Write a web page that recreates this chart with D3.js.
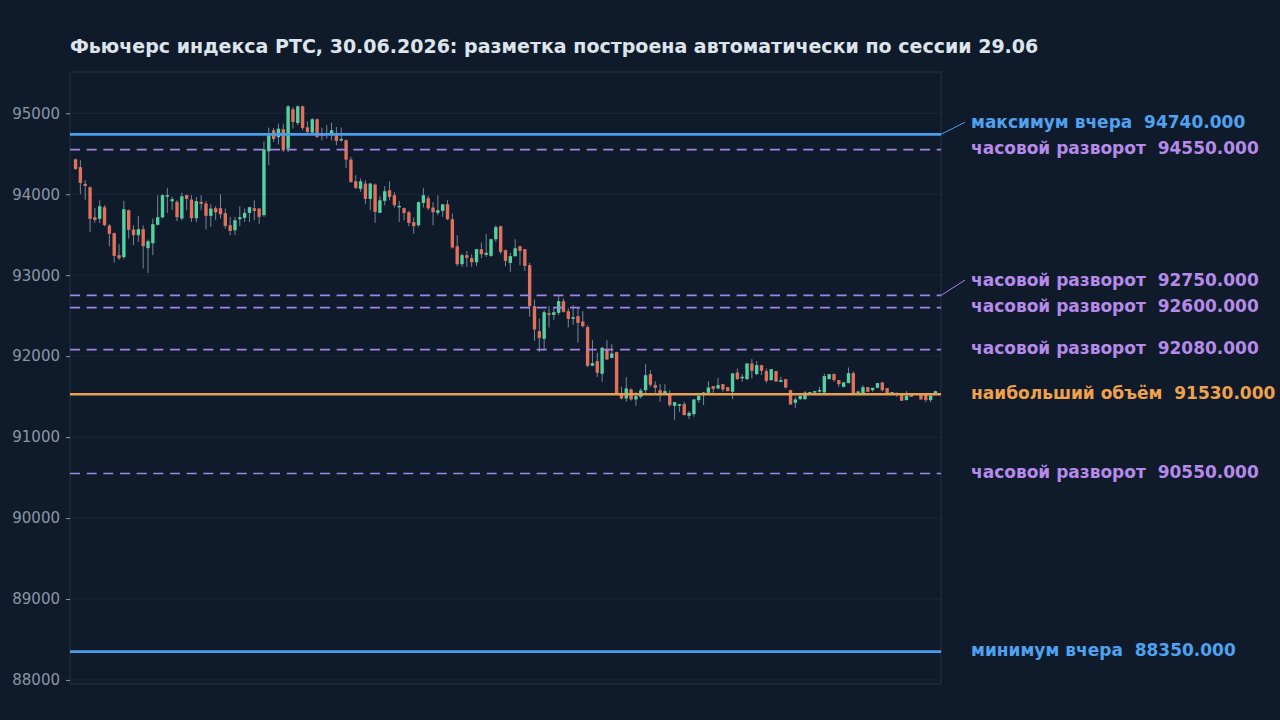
<!DOCTYPE html>
<html><head><meta charset="utf-8">
<script src="https://cdn.jsdelivr.net/npm/d3@7"></script>
<style>
html,body{margin:0;padding:0;background:#0f1b2a;}
svg{display:block;}
</style></head>
<body>
<svg id="chart" width="1280" height="720"></svg>
<script>
const titleText = "Фьючерс индекса РТС, 30.06.2026: разметка построена автоматически по сессии 29.06";

const opens = [94432,94334,94128,94087,93716,93696,93840,93613,93519,93247,93223,93803,93564,93494,93568,93334,93395,93622,93716,93984,
93914,93906,93700,93988,93934,93704,93906,93885,93733,93827,93827,93765,93617,93555,93691,93708,93770,93827,93823,93741,
94531,94790,94704,94802,94564,95049,94880,95086,94827,94761,94926,94737,94736,94749,94728,94667,94667,94428,94160,94066,
94132,93942,94119,93770,93918,94049,93988,93848,93827,93778,93654,93617,93893,93951,93835,93770,93794,93876,93691,93358,
93136,93247,93210,93160,93321,93251,93239,93444,93605,93309,93152,93235,93358,93321,93123,92617,92309,92214,92531,92510,
92535,92679,92555,92461,92494,92428,92358,91881,91938,91782,92082,91979,92049,91539,91477,91589,91465,91498,91580,91778,
91642,91580,91539,91527,91387,91387,91407,91263,91284,91457,91518,91547,91629,91601,91654,91617,91560,91798,91728,91716,
91909,91778,91889,91815,91704,91815,91683,91716,91580,91424,91469,91469,91531,91551,91568,91551,91716,91778,91704,91621,
91667,91790,91551,91539,91617,91580,91609,91675,91605,91539,91547,91527,91457,91527,91527,91527,91527,91457,91527];
const highs = [94440,94420,94173,94095,93827,93926,93864,93630,93525,93383,93918,93810,93617,93729,93617,93441,93700,93988,94000,94078,
93967,93926,94017,93995,93988,93967,93988,93918,93877,93852,94000,93823,93720,93720,93852,93823,93844,93926,93830,94654,
94823,94819,94872,94872,95099,95078,95099,95095,94901,94942,94935,94823,94852,94885,94831,94823,94675,94461,94235,94194,
94173,94140,94132,93975,94099,94160,94029,93918,93835,93794,93712,93914,94074,93984,93901,93988,93880,93926,93761,93494,
93268,93300,93259,93325,93403,93506,93453,93617,93610,93317,93276,93444,93362,93325,93152,92700,92465,92568,92617,92609,
92753,92712,92588,92630,92601,92556,92383,92198,92041,92115,92198,92148,92055,91621,91741,91601,91560,91601,91901,91827,
91691,91654,91654,91580,91436,91410,91436,91321,91470,91515,91555,91691,91633,91728,91658,91620,91794,91848,91778,91912,
91963,91938,91892,91848,91842,91818,91745,91719,91584,91498,91512,91568,91558,91570,91621,91786,91780,91786,91706,91683,
91860,91811,91572,91642,91619,91611,91669,91677,91607,91558,91549,91529,91568,91529,91541,91529,91529,91516,91572];
const lows = [94300,94000,93926,93535,93650,93646,93605,93358,93153,93185,93202,93453,93371,93412,93083,93029,93247,93615,93700,93770,
93803,93667,93679,93803,93659,93655,93803,93564,93597,93679,93700,93576,93494,93494,93609,93658,93658,93679,93630,93720,
94358,94646,94613,94522,94522,94810,94852,94790,94749,94741,94695,94666,94687,94666,94605,94646,94325,94140,94062,94029,
93876,93802,93646,93765,93864,93926,93835,93658,93679,93605,93514,93597,93835,93802,93617,93741,93720,93679,93329,93111,
93103,93103,93103,93115,93210,93226,93226,93412,93259,93111,93041,93230,93123,93053,92486,92189,92054,92082,92354,92444,
92506,92539,92354,92383,92165,92354,91864,91876,91741,91683,91951,91971,91519,91465,91436,91449,91387,91477,91539,91621,
91547,91436,91535,91374,91210,91313,91268,91222,91251,91424,91395,91527,91547,91588,91560,91565,91469,91704,91683,91704,
91724,91765,91765,91671,91695,91683,91675,91601,91400,91362,91457,91457,91529,91531,91551,91548,91714,91683,91621,91613,
91665,91537,91539,91537,91558,91560,91601,91560,91537,91537,91498,91447,91455,91496,91525,91463,91432,91432,91520];
const closes = [94313,94140,94103,93696,93683,93852,93618,93511,93239,93210,93815,93560,93494,93568,93358,93420,93630,93716,93988,93988,
93939,93716,93975,93943,93704,93914,93881,93733,93823,93778,93753,93609,93547,93679,93716,93770,93840,93794,93720,94555,
94728,94683,94810,94543,95086,94893,95086,94819,94769,94926,94708,94720,94749,94790,94658,94683,94428,94152,94078,94160,
93942,94132,93782,93926,94037,93967,93864,93856,93769,93646,93605,93901,93988,93827,93778,93802,93876,93691,93342,93136,
93247,93214,93160,93321,93259,93276,93444,93593,93288,93177,93235,93333,93300,93115,92617,92329,92226,92543,92510,92543,
92679,92547,92461,92481,92411,92370,91881,91914,91794,92103,91959,92033,91531,91477,91601,91465,91506,91576,91765,91646,
91609,91518,91568,91395,91432,91407,91272,91300,91465,91510,91551,91613,91597,91642,91588,91568,91786,91716,91745,91909,
91819,91889,91819,91695,91839,91686,91704,91613,91403,91465,91510,91551,91556,91568,91580,91753,91778,91704,91654,91675,
91790,91539,91564,91617,91560,91609,91667,91580,91539,91556,91531,91449,91510,91498,91539,91465,91457,91514,91568];

const levelNames  = ["максимум вчера","часовой разворот","часовой разворот","часовой разворот","часовой разворот","наибольший объём","часовой разворот","минимум вчера"];
const levelValues = [94740, 94550, 92750, 92600, 92080, 91530, 90550, 88350];
const levelKinds  = ["extreme","pivot","pivot","pivot","pivot","volume","pivot","extreme"];

const yTicks = [88000, 89000, 90000, 91000, 92000, 93000, 94000, 95000];

// ---- styles ----
const style = {
  bg: "#0f1b2a", grid: "#1b2838", frame: "#243247", tick: "#8a96a5",
  up: "#52d1a2", down: "#e2705b", wick: "#75859a",
  kinds: {
    extreme: {line: "#4a9eea", text: "#4ea2f0", width: 2.6, dash: null},
    pivot:   {line: "#a283e6", text: "#b68ae9", width: 1.7, dash: "10 6.667"},
    volume:  {line: "#e8a050", text: "#f0a14b", width: 2.6, dash: null}
  }
};

const L = 70, R = 941, T = 72, B = 684;
const svg = d3.select("#chart");
svg.append("rect").attr("width", 1280).attr("height", 720).attr("fill", style.bg);

const n = opens.length;
const data = d3.range(n).map(i => ({i, o: opens[i], h: highs[i], l: lows[i], c: closes[i]}));

const x = d3.scaleBand().domain(d3.range(n)).range([L, R]).paddingInner(0.3).paddingOuter(0.8);
const y = d3.scaleLinear().domain([87950, 95510]).range([B, T]);

// grid
svg.append("g").selectAll("line").data(yTicks).join("line")
  .attr("x1", L).attr("x2", R).attr("y1", d => y(d)).attr("y2", d => y(d))
  .attr("stroke", style.grid).attr("stroke-width", 1);

// frame
svg.append("rect").attr("x", L).attr("y", T).attr("width", R - L).attr("height", B - T)
  .attr("fill", "none").attr("stroke", style.frame).attr("stroke-width", 1);

// y axis
const yAxis = svg.append("g").attr("transform", `translate(${L},0)`)
  .call(d3.axisLeft(y).tickValues(yTicks).tickFormat(d3.format("d")).tickSize(4).tickPadding(6));
yAxis.select(".domain").remove();
yAxis.selectAll(".tick line").attr("stroke", style.tick);
yAxis.selectAll(".tick text").attr("fill", style.tick)
  .style("font-family", "DejaVu Sans, sans-serif").style("font-size", "15px");

// candles
const cg = svg.append("g");
const xc = d => x(d.i) + x.bandwidth() / 2;
cg.selectAll("line.wick").data(data).join("line").attr("class", "wick")
  .attr("x1", xc).attr("x2", xc).attr("y1", d => y(d.h)).attr("y2", d => y(d.l))
  .attr("stroke", style.wick).attr("stroke-width", 1);
cg.selectAll("rect.body").data(data).join("rect").attr("class", "body")
  .attr("x", d => x(d.i)).attr("width", x.bandwidth())
  .attr("y", d => y(Math.max(d.o, d.c)))
  .attr("height", d => Math.max(1.5, Math.abs(y(d.o) - y(d.c))))
  .attr("fill", d => d.c >= d.o ? style.up : style.down);

// levels
const levels = levelValues.map((v, k) => ({v, name: levelNames[k], kind: levelKinds[k], yl: y(v)}));
const lg = svg.append("g");
lg.selectAll("line").data(levels).join("line")
  .attr("x1", L).attr("x2", R).attr("y1", d => d.yl).attr("y2", d => d.yl)
  .attr("stroke", d => style.kinds[d.kind].line)
  .attr("stroke-width", d => style.kinds[d.kind].width)
  .attr("stroke-dasharray", d => style.kinds[d.kind].dash);

// label collision avoidance: push upward from the bottom
const sorted = levels.slice().sort((a, b) => b.v - a.v); // top to bottom
sorted.forEach(d => d.ty = d.yl);
const gap = 26;
for (let k = sorted.length - 2; k >= 0; k--) {
  if (sorted[k].ty > sorted[k + 1].ty - gap) sorted[k].ty = sorted[k + 1].ty - gap;
}
const labX = 971;
lg.selectAll("line.leader").data(levels.filter(d => Math.abs(d.ty - d.yl) > 2)).join("line")
  .attr("class", "leader")
  .attr("x1", R).attr("y1", d => d.yl).attr("x2", labX - 6).attr("y2", d => d.ty - 1.5)
  .attr("stroke", d => style.kinds[d.kind].line).attr("stroke-width", 1);
lg.selectAll("text").data(levels).join("text")
  .attr("x", labX).attr("y", d => d.ty).attr("dy", "0.27em")
  .style("white-space", "pre")
  .attr("fill", d => style.kinds[d.kind].text)
  .style("font-family", "DejaVu Sans, sans-serif").style("font-size", "17px").style("font-weight", "bold")
  .text(d => `${d.name}  ${d.v.toFixed(3)}`);

// title
svg.append("text").attr("x", 70).attr("y", 53)
  .attr("fill", "#dde4ec")
  .style("font-family", "DejaVu Sans, sans-serif").style("font-size", "19px").style("font-weight", "bold")
  .text(titleText);
</script>
</body></html>
